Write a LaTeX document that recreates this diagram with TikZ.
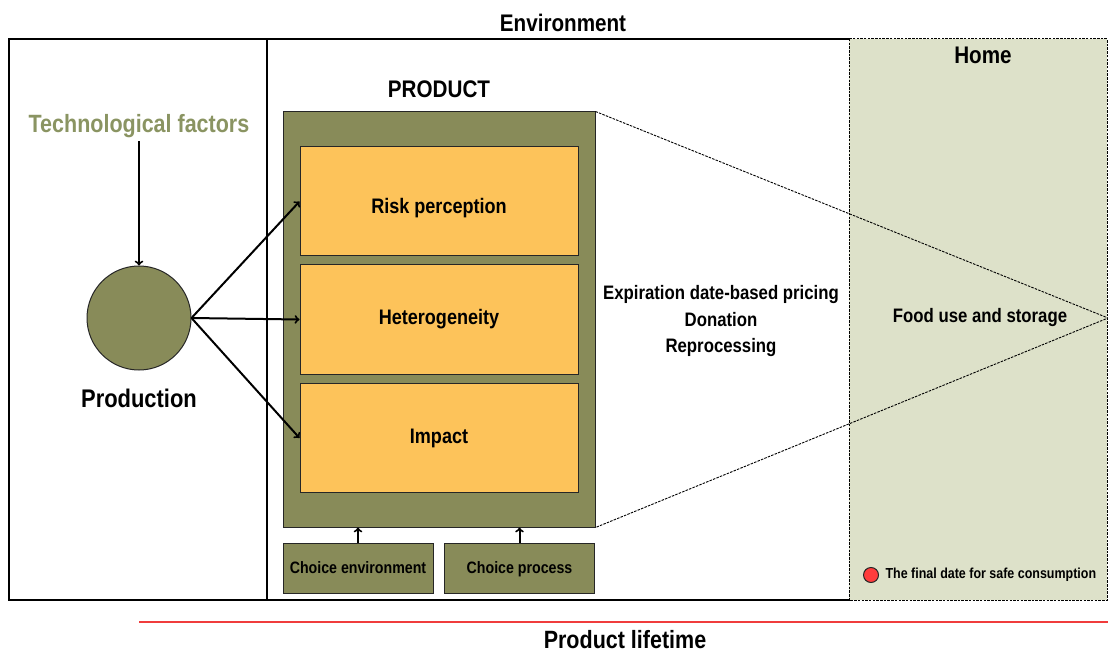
\documentclass[tikz,border=0pt]{standalone}
\usepackage{fontspec}
\setmainfont{Liberation Sans}[FakeStretch=0.86]
\usetikzlibrary{positioning}
\definecolor{prodolive}{RGB}{136,139,89}
\definecolor{techgreen}{RGB}{138,148,98}
\definecolor{boxorange}{RGB}{253,195,90}
\definecolor{homegreen}{RGB}{221,225,201}
\definecolor{dotred}{RGB}{255,60,60}
\definecolor{lifered}{RGB}{240,60,60}
\newcommand{\fsz}[1]{\fontsize{#1}{1.4\dimexpr#1pt\relax}\selectfont}
\begin{document}
\begin{tikzpicture}[x=1pt,y=-1pt,
  every node/.style={font=\bfseries},
  olivebox/.style={draw=black!85,fill=prodolive,line width=1pt},
  riskbox/.style={draw=black!85,fill=boxorange,line width=1pt,
    minimum width=278pt,minimum height=109pt,font=\bfseries\fsz{21}},
  choicebox/.style={olivebox,minimum width=150pt,minimum height=50pt,
    text depth=0pt,font=\bfseries\fsz{16.5}},
  arr/.style={->,line width=2pt},
  zoomline/.style={dash pattern=on 2.5pt off 1.2pt,line width=0.9pt}]
\useasboundingbox (0,0) rectangle (1108,652);
% Environment frame
\node (env) at (563,23) {\fsz{24}Environment};
\draw[line width=1.6pt] (849,39) -- (9,39) -- (9,600) -- (849,600);
\draw[line width=1.2pt] (267,39) -- (267,600);
% Home area
\draw[fill=homegreen,dash pattern=on 2.5pt off 1.2pt,line width=1pt]
  (849,39) rectangle (1107,600);
\node (home) at (983,55) {\fsz{24}Home};
\node (fooduse) at (980,318) {\fsz{19.5}Food use and storage};
\node[circle,draw=black!85,fill=dotred,minimum size=15pt,inner sep=0pt,
  line width=1pt] (reddot) at (871,575) {};
\node[right=3pt of reddot] (finaldate) {\fsz{14.5}The final date for safe consumption};
% Production
\node[text=techgreen] (tech) at (139,126) {\fsz{25}Technological factors};
\node[circle,olivebox,minimum size=104pt] (prod) at (139,318) {};
\node (prodlabel) at (139,398) {\fsz{25.5}Production};
\draw[arr] (tech) -- (prod);
% Product
\node (producttitle) at (439,89) {\fsz{24}PRODUCT};
\node[olivebox,minimum width=312pt,minimum height=415pt] (product) at (439,319.5) {};
\node[riskbox,text height=28pt] (risk) at (439,201.5) {Risk perception};
\node[riskbox] (hetero) at (439,319.5) {Heterogeneity};
\node[riskbox] (impact) at (439,438) {Impact};
\draw[arr] (prod.east) -- (risk.west);
\draw[arr] (prod.east) -- (hetero.west);
\draw[arr] (prod.east) -- (impact.west);
% Choice boxes
\node[choicebox] (choiceenv) at (358,568) {Choice environment};
\node[choicebox] (choiceproc) at (519.5,568) {Choice process};
\draw[arr] (choiceenv) -- (choiceenv |- product.south);
\draw[arr] (choiceproc) -- (choiceproc |- product.south);
% Zoom lines
\coordinate (apex) at (1108,318);
\draw[zoomline] (product.north east) -- (apex) -- (product.south east);
\node[align=center,font=\bfseries\fontsize{19.5}{27}\selectfont] (options) at (721,321)
  {Expiration date-based pricing\\Donation\\Reprocessing};
% Product lifetime
\coordinate (lifestart) at (139,622);
\coordinate (lifeend) at (1108,622);
\draw[lifered,line width=2pt] (lifestart) -- (lifeend);
\node[inner sep=0pt] (lifetime) at (625,640) {\fsz{25}Product lifetime};
\end{tikzpicture}
\end{document}
